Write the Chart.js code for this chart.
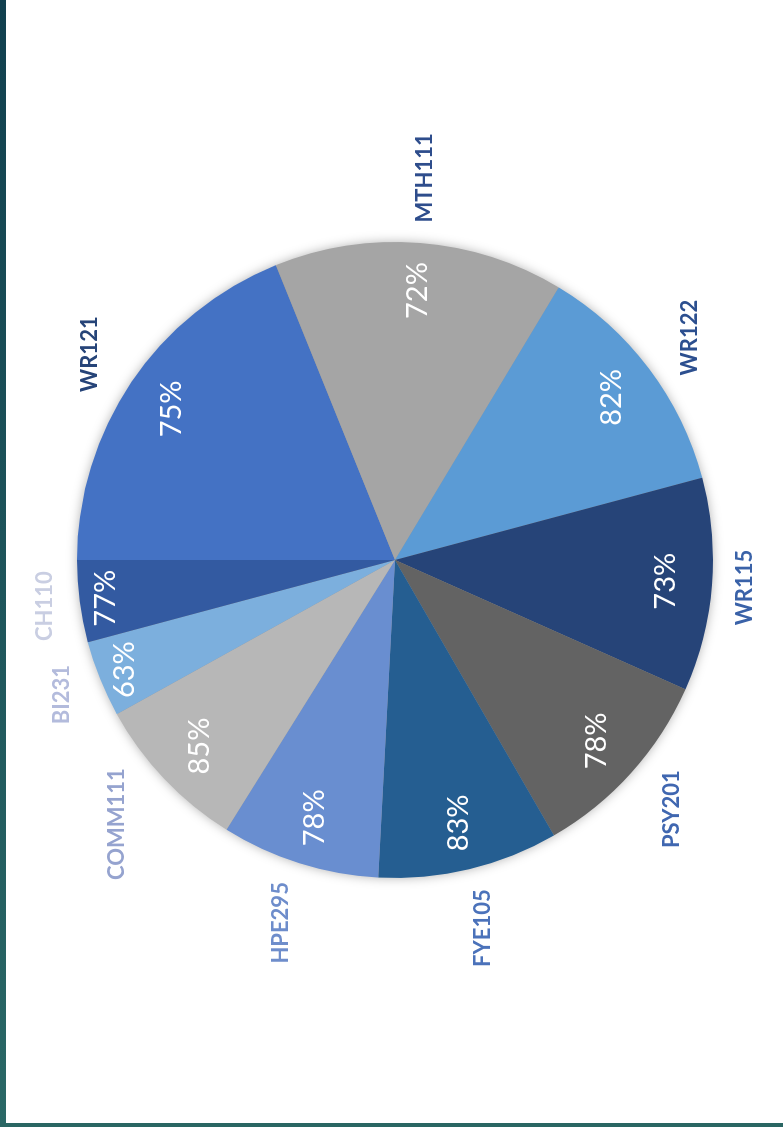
<!DOCTYPE html>
<html>
<head>
<meta charset="utf-8">
<script src="https://cdn.jsdelivr.net/npm/chart.js@4.4.1/dist/chart.umd.min.js"></script>
<style>
  html,body{margin:0;padding:0;background:#fff}
  body{width:783px;height:1127px;position:relative;overflow:hidden}
  .edge-left{position:absolute;left:0;top:0;width:6px;height:1127px;background:linear-gradient(#11404f,#2a6866)}
  .edge-bottom{position:absolute;left:0;bottom:0;width:783px;height:4px;background:#2a6663}
  /* chart is laid out landscape, then turned so the text reads upward */
  #stage{position:absolute;left:0;top:0;width:1127px;height:783px;transform-origin:0 0;transform:translateY(1127px) rotate(-90deg)}
</style>
</head>
<body>
<div id="stage"><canvas id="pie" width="1127" height="783"></canvas></div>
<div class="edge-left"></div>
<div class="edge-bottom"></div>
<script>
// courses, clockwise from 12 o'clock
const categories = ['WR121','MTH111','WR122','WR115','PSY201','FYE105','HPE295','COMM111','BI231','CH110'];
// slice sizes (share of students)
const shares = [68, 53, 44, 39, 36, 33, 29, 29, 14, 15];
// success rate printed on each slice
const passRates = [75, 72, 82, 73, 78, 83, 78, 85, 63, 77];

const sliceColors = ['#4472C4','#A5A5A5','#5B9BD5','#264478','#636363','#255E91','#698ED0','#B7B7B7','#7CAFDD','#335AA1'];
const labelColors = ['#264478','#2E4D8C','#2C4F8F','#3A62A8','#4067B0','#4B72BA','#6E8DCB','#95A3CF','#B3BBDC','#C9CEE2'];

const pieShadow = {
  id:'pieShadow',
  beforeDatasetsDraw(chart){
    const arc = chart.getDatasetMeta(0).data[0];
    if(!arc) return;
    const {x,y,outerRadius} = arc.getProps(['x','y','outerRadius'], true);
    const ctx = chart.ctx;
    ctx.save();
    ctx.shadowColor = 'rgba(0,0,0,0.35)';
    ctx.shadowBlur = 12;
    ctx.beginPath();
    ctx.arc(x, y, outerRadius-1, 0, Math.PI*2);
    ctx.fillStyle = '#999';
    ctx.fill();
    ctx.restore();
  }
};

// place a box of half sizes hw,hh along angle a so its nearest point sits at dist d
function outsideRadius(a, hw, hh, d){
  const c = Math.cos(a), s = Math.sin(a);
  let lo = d, hi = d + 200;
  for(let i=0;i<40;i++){
    const t = (lo+hi)/2;
    const nx = Math.max(0, Math.abs(t*c)-hw), ny = Math.max(0, Math.abs(t*s)-hh);
    if(Math.hypot(nx,ny) < d) lo = t; else hi = t;
  }
  return (lo+hi)/2;
}

const sliceLabels = {
  id:'sliceLabels',
  afterDatasetsDraw(chart){
    const ctx = chart.ctx;
    chart.getDatasetMeta(0).data.forEach((arc,i)=>{
      const p = arc.getProps(['x','y','startAngle','endAngle','outerRadius'], true);
      const mid = (p.startAngle+p.endAngle)/2;
      const span = p.endAngle-p.startAngle;
      const R = p.outerRadius;
      ctx.save();
      ctx.textAlign = 'center';
      ctx.textBaseline = 'middle';
      // value inside the slice
      ctx.font = '29px Lato';
      ctx.fillStyle = '#ffffff';
      const ri = R * (span < 0.3 ? 0.92 : 0.85);
      ctx.fillText(passRates[i]+'%', p.x+Math.cos(mid)*ri, p.y+Math.sin(mid)*ri+1);
      // course name outside
      ctx.font = 'bold 22px Lato';
      const w = ctx.measureText(categories[i]).width;
      const ro = outsideRadius(mid, w/2, 12, R+20);
      ctx.fillStyle = labelColors[i];
      ctx.fillText(categories[i], p.x+Math.cos(mid)*ro, p.y+Math.sin(mid)*ro);
      ctx.restore();
    });
  }
};

new Chart(document.getElementById('pie'), {
  type:'pie',
  data:{
    labels:categories,
    datasets:[{data:shares, backgroundColor:sliceColors, borderWidth:0}]
  },
  options:{
    responsive:false,
    animation:false,
    layout:{padding:{top:77,bottom:70,left:249,right:242}},
    plugins:{legend:{display:false}, tooltip:{enabled:false}}
  },
  plugins:[pieShadow, sliceLabels]
});
</script>
</body>
</html>
